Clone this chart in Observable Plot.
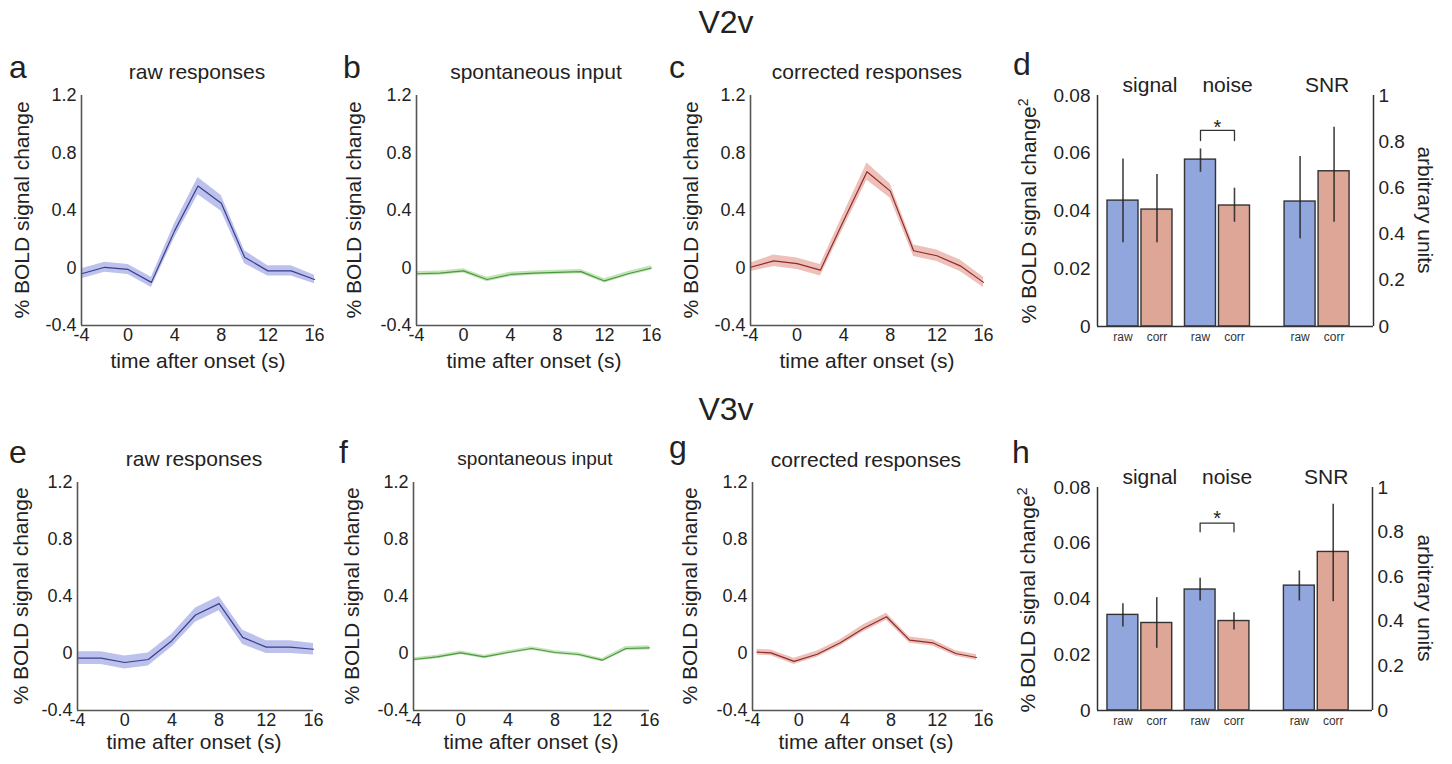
<!DOCTYPE html>
<html>
<head>
<meta charset="utf-8">
<script src="https://cdn.jsdelivr.net/npm/d3@7"></script>
<script src="https://cdn.jsdelivr.net/npm/@observablehq/plot@0.6"></script>
<style>
  html, body { margin: 0; padding: 0; background: #fff; }
  #fig { position: relative; width: 1452px; height: 764px; overflow: hidden; background: #fff;
         font-family: "Liberation Sans", Arial, Helvetica, sans-serif; color: #222; }
  .panel { position: absolute; }
  #overlay { position: absolute; left: 0; top: 0; pointer-events: none; }
</style>
</head>
<body>
<div id="fig"></div>
<script>
// ---------------- data ----------------
const timeGrid   = [-4, -2, 0, 2, 4, 6, 8, 10, 12, 14, 16];
const timeV3Corr = [-3.6, -2.4, -0.4, 1.6, 3.6, 5.6, 7.6, 9.6, 11.6, 13.6, 15.4];

// V2v time courses (% BOLD signal change) and their SEM band half-widths
const v2RawMean   = [-0.04, 0.005, -0.01, -0.10, 0.26, 0.57, 0.45, 0.075, -0.02, -0.02, -0.08];
const v2RawSem    = [0.035, 0.035, 0.035, 0.035, 0.05, 0.06, 0.055, 0.045, 0.035, 0.035, 0.03];
const v2SpontMean = [-0.04, -0.035, -0.02, -0.08, -0.045, -0.035, -0.03, -0.025, -0.09, -0.04, 0.0];
const v2SpontSem  = [0.015, 0.015, 0.015, 0.015, 0.015, 0.015, 0.015, 0.015, 0.015, 0.015, 0.015];
const v2CorrMean  = [0.005, 0.05, 0.03, -0.015, 0.33, 0.67, 0.535, 0.12, 0.085, 0.015, -0.10];
const v2CorrSem   = [0.03, 0.04, 0.04, 0.04, 0.05, 0.06, 0.05, 0.04, 0.04, 0.04, 0.035];

// V3v time courses
const v3RawMean   = [-0.033, -0.033, -0.063, -0.042, 0.09, 0.27, 0.35, 0.113, 0.045, 0.045, 0.03];
const v3RawSem    = [0.045, 0.045, 0.045, 0.045, 0.045, 0.05, 0.05, 0.05, 0.045, 0.045, 0.04];
const v3SpontMean = [-0.042, -0.024, 0.005, -0.024, 0.007, 0.035, 0.007, -0.007, -0.047, 0.035, 0.04];
const v3SpontSem  = [0.012, 0.012, 0.012, 0.012, 0.012, 0.012, 0.012, 0.012, 0.012, 0.015, 0.015];
const v3CorrMean  = [0.01, 0.004, -0.055, -0.005, 0.075, 0.176, 0.258, 0.094, 0.075, 0.0, -0.028];
const v3CorrSem   = [0.02, 0.02, 0.022, 0.022, 0.022, 0.025, 0.025, 0.022, 0.022, 0.02, 0.02];

const xTicks = [-4, 0, 4, 8, 12, 16];
const yTicks = [-0.4, 0, 0.4, 0.8, 1.2];

// bar panels: signal & noise in % BOLD signal change^2, SNR in arbitrary units (right axis)
const barGroups = ["signal", "noise", "SNR"];
const barConds  = ["raw", "corr"];
const v2BarMean = [0.0436, 0.0405, 0.0578, 0.0419, 0.541, 0.672];
const v2BarLo   = [0.029, 0.029, 0.0534, 0.0361, 0.38, 0.451];
const v2BarHi   = [0.058, 0.0526, 0.0615, 0.0479, 0.736, 0.863];
const v3BarMean = [0.0343, 0.0314, 0.0434, 0.0321, 0.56, 0.711];
const v3BarLo   = [0.030, 0.0223, 0.0393, 0.0289, 0.491, 0.488];
const v3BarHi   = [0.0383, 0.0405, 0.0474, 0.0351, 0.626, 0.925];
const v2Bracket = [0.0644, 0.0679];   // leg bottom, top (noise raw vs corr)
const v3Bracket = [0.0641, 0.0672];
const leftTicks  = [0, 0.02, 0.04, 0.06, 0.08];
const rightTicks = [0, 0.2, 0.4, 0.6, 0.8, 1];

// ---------------- styles & layout ----------------
const FONT = '"Liberation Sans", Arial, Helvetica, sans-serif';
const AXIS = "#555";
const BLUE  = { band: "#bcc2ec", line: "#3a3d8c" };
const GREEN = { band: "#c3e3b8", line: "#4d9a3e" };
const RED   = { band: "#eec0ba", line: "#8e2b2b" };
const BAR_FILL = { raw: "#92a6de", corr: "#dea697" };
const SNR_K = 0.08;                    // right axis 1 <-> left axis 0.08
const groupSlot = [0, 2.28, 5.21];     // horizontal slot of each bar group
const fig = document.getElementById("fig");

function place(svg, left, top) {
  const d = document.createElement("div");
  d.className = "panel";
  d.style.left = left + "px";
  d.style.top = top + "px";
  d.appendChild(svg);
  fig.appendChild(d);
}

const fmtNum = d => (Math.abs(d) < 1e-9 ? "0" : String(+d.toFixed(2)));

function linePanel(ts, mean, sem, col, f) {
  const data = ts.map((t, i) => ({ t, v: mean[i], lo: mean[i] - sem[i], hi: mean[i] + sem[i] }));
  const mL = 60, mR = 12, mT = 12, mB = 34;
  const svg = Plot.plot({
    width: (f.x1 - f.x0) + mL + mR,
    height: (f.y1 - f.y0) + mT + mB,
    marginLeft: mL, marginRight: mR, marginTop: mT, marginBottom: mB,
    x: { domain: [-4, 16] },
    y: { domain: [-0.4, 1.2] },
    style: { fontFamily: FONT, color: "#222", background: "transparent", overflow: "visible" },
    marks: [
      Plot.areaY(data, { x: "t", y1: "lo", y2: "hi", fill: col.band }),
      Plot.line(data, { x: "t", y: "v", stroke: col.line, strokeWidth: 1.2 }),
      Plot.ruleX([-4], { stroke: AXIS, strokeWidth: 1.6 }),
      Plot.ruleY([-0.4], { stroke: AXIS, strokeWidth: 1.6 }),
      Plot.axisX({ ticks: xTicks, tickSize: 0, tickPadding: 3, fontSize: 18, label: null, tickFormat: d => String(d) }),
      Plot.axisY({ ticks: yTicks, tickSize: 0, tickPadding: 5, fontSize: 18, label: null, tickFormat: fmtNum })
    ]
  });
  place(svg, f.x0 - mL, f.y0 - mT);
}

function barPanel(mean, lo, hi, bracket, f) {
  const rows = [];
  barGroups.forEach((g, gi) => barConds.forEach((c, ci) => {
    const i = gi * 2 + ci;
    const k = g === "SNR" ? SNR_K : 1;
    const pos = groupSlot[gi] + ci;
    rows.push({ group: g, cond: c, pos, a: pos - 0.456, b: pos + 0.456,
                m: mean[i] * k, lo: lo[i] * k, hi: hi[i] * k });
  }));
  const groupsPos = barGroups.map((g, gi) => ({ g, x: groupSlot[gi] + 0.5 }));
  const nRaw = groupSlot[1], nCorr = groupSlot[1] + 1;
  const br = [
    { x: nRaw, y: bracket[0] }, { x: nRaw, y: bracket[1] },
    { x: nCorr, y: bracket[1] }, { x: nCorr, y: bracket[0] }
  ];
  const mL = 70, mR = 55, mT = 30, mB = 24;
  const xDom = [-0.75, 7.37];
  const svg = Plot.plot({
    width: (f.x1 - f.x0) + mL + mR,
    height: (f.y1 - f.y0) + mT + mB,
    marginLeft: mL, marginRight: mR, marginTop: mT, marginBottom: mB,
    x: { domain: xDom, axis: null },
    y: { domain: [0, 0.08] },
    style: { fontFamily: FONT, color: "#222", background: "transparent", overflow: "visible" },
    marks: [
      Plot.rect(rows, { x1: "a", x2: "b", y1: 0, y2: "m", fill: d => BAR_FILL[d.cond], stroke: "#333", strokeWidth: 1.4 }),
      Plot.ruleX(rows, { x: "pos", y1: "lo", y2: "hi", stroke: "#222", strokeWidth: 1.6, strokeOpacity: 0.85 }),
      Plot.line(br, { x: "x", y: "y", stroke: "#333", strokeWidth: 1.3 }),
      Plot.text(["*"], { x: () => (nRaw + nCorr) / 2, y: () => 0.069, fontSize: 20, fill: "#222" }),
      Plot.text(groupsPos, { x: "x", y: () => 0.08, text: "g", dx: 10, dy: -10, fontSize: 21, fill: "#222" }),
      Plot.text(rows, { x: "pos", y: () => 0, text: "cond", dy: 11, fontSize: 12, fill: "#333" }),
      Plot.ruleX([xDom[0], xDom[1]], { stroke: "#333", strokeWidth: 1.5 }),
      Plot.ruleY([0], { stroke: "#333", strokeWidth: 1.5 }),
      Plot.axisY({ anchor: "left", ticks: leftTicks, tickSize: 0, tickPadding: 7, fontSize: 19, label: null,
                   tickFormat: d => (d === 0 ? "0" : d.toFixed(2)) }),
      Plot.axisY({ anchor: "right", ticks: rightTicks.map(t => t * SNR_K), tickSize: 0, tickPadding: 5, fontSize: 19,
                   label: null, tickFormat: d => fmtNum(d / SNR_K) })
    ]
  });
  place(svg, f.x0 - mL, f.y0 - mT);
}

// ---------------- panels ----------------
linePanel(timeGrid, v2RawMean, v2RawSem, BLUE,  { x0: 81,  x1: 314, y0: 95,  y1: 325 });
linePanel(timeGrid, v2SpontMean, v2SpontSem, GREEN, { x0: 416, x1: 651, y0: 95, y1: 325 });
linePanel(timeGrid, v2CorrMean, v2CorrSem, RED, { x0: 750, x1: 983, y0: 95, y1: 325 });
barPanel(v2BarMean, v2BarLo, v2BarHi, v2Bracket, { x0: 1097, x1: 1373, y0: 95, y1: 326 });

linePanel(timeGrid, v3RawMean, v3RawSem, BLUE,  { x0: 77,  x1: 313, y0: 482, y1: 710 });
linePanel(timeGrid, v3SpontMean, v3SpontSem, GREEN, { x0: 413, x1: 649, y0: 482, y1: 710 });
linePanel(timeV3Corr, v3CorrMean, v3CorrSem, RED, { x0: 752, x1: 983, y0: 482, y1: 710 });
barPanel(v3BarMean, v3BarLo, v3BarHi, v3Bracket, { x0: 1097, x1: 1372, y0: 486.5, y1: 709.5 });

// ---------------- text annotations ----------------
const T = [];
const txt = (x, y, s, size, extra = "") =>
  T.push(`<text x="${x}" y="${y}" font-size="${size}" ${extra}>${s}</text>`);
const vtxt = (cx, cy, s, size, rot) =>
  T.push(`<text transform="translate(${cx},${cy}) rotate(${rot})" text-anchor="middle" dy="0.35em" font-size="${size}">${s}</text>`);

// headers
txt(726, 33, "V2v", 32, 'text-anchor="middle"');
txt(726, 420, "V3v", 32, 'text-anchor="middle"');
// panel letters
[["a", 9, 78], ["b", 343, 78], ["c", 669, 78], ["d", 1013, 75],
 ["e", 9, 463], ["f", 339, 463], ["g", 669, 458], ["h", 1012, 463]]
  .forEach(([s, x, y]) => txt(x, y, s, 32));
// panel titles
txt(197, 79, "raw responses", 21, 'text-anchor="middle"');
txt(536, 79, "spontaneous input", 21, 'text-anchor="middle"');
txt(867, 79, "corrected responses", 21, 'text-anchor="middle"');
txt(194, 466, "raw responses", 21, 'text-anchor="middle"');
txt(535, 465, "spontaneous input", 19, 'text-anchor="middle"');
txt(866, 467, "corrected responses", 21, 'text-anchor="middle"');
// x titles
[[198, 368], [534, 368], [867, 368], [194, 749], [531, 749], [866, 749]]
  .forEach(([x, y]) => txt(x, y, "time after onset (s)", 21, 'text-anchor="middle"'));
// y titles
[[22, 210], [354, 210], [691, 210], [21, 596], [352, 596], [690, 596]]
  .forEach(([x, y]) => vtxt(x, y, "% BOLD signal change", 21, -90));
vtxt(1029, 211, '% BOLD signal change<tspan dy="-8" font-size="14">2</tspan>', 21, -90);
vtxt(1028, 600, '% BOLD signal change<tspan dy="-8" font-size="14">2</tspan>', 21, -90);
vtxt(1425, 210, "arbitrary units", 21, 90);
vtxt(1425, 598, "arbitrary units", 21, 90);

const ov = `<svg id="overlay" width="1452" height="764" xmlns="http://www.w3.org/2000/svg" font-family='${FONT}' fill="#222">${T.join("")}</svg>`;
fig.insertAdjacentHTML("beforeend", ov);
</script>
</body>
</html>
